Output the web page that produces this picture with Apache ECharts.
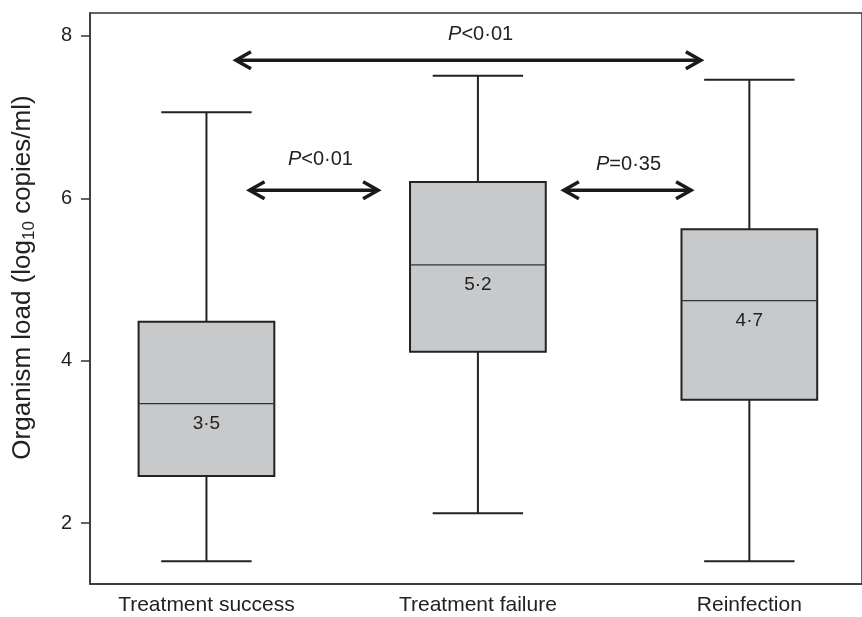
<!DOCTYPE html>
<html><head><meta charset="utf-8">
<script src="https://cdn.jsdelivr.net/npm/echarts@6/dist/echarts.min.js"></script>
<style>html,body{margin:0;padding:0;background:#fff}#c{width:862px;height:617px}</style>
</head><body><div id="c"></div>
<script>
// ---- data ----
const categories = ['Treatment success', 'Treatment failure', 'Reinfection'];
const groupPos = [1, 2, 3];
const whiskerLow = [1.53, 2.12, 1.53];
const q1 = [2.58, 4.11, 3.52];
const median = [3.47, 5.18, 4.74];
const q3 = [4.48, 6.20, 5.62];
const whiskerHigh = [7.06, 7.51, 7.46];
const medianLabels = ['3·5', '5·2', '4·7'];
const yTicks = [2, 4, 6, 8];
// pairwise comparisons (arrow spans in group units, arrow level, label)
const cmpFrom = [1.105, 1.155, 2.313];
const cmpTo = [2.825, 1.636, 2.789];
const cmpY = [7.70, 6.10, 6.10];
const cmpOp = ['<0·01', '<0·01', '=0·35'];
const cmpLabelX = [2.01, 1.42, 2.555];
const cmpLabelY = [8.02, 6.48, 6.42];

const FONT = '"Liberation Sans", Arial, Helvetica, sans-serif';
const INK = '#222';

const boxData = groupPos.map((x, i) => [x, whiskerLow[i], q1[i], median[i], q3[i], whiskerHigh[i], i]);
const cmpData = cmpFrom.map((f, i) => [f, cmpTo[i], cmpY[i], cmpLabelX[i], cmpLabelY[i], i]);

const chart = echarts.init(document.getElementById('c'), null, {renderer: 'canvas'});
chart.setOption({
  animation: false,
  backgroundColor: '#fff',
  grid: {left: 86, right: -6, top: 13, bottom: 33, show: true, borderColor: '#333', borderWidth: 1.5, backgroundColor: 'transparent'},
  xAxis: {
    type: 'value', min: 0.571, max: 3.415,
    axisLine: {show: true, lineStyle: {color: '#333', width: 1.5}},
    axisTick: {show: false},
    splitLine: {show: false},
    axisLabel: {
      customValues: groupPos,
      formatter: v => categories[Math.round(v) - 1] || '',
      margin: 11, fontSize: 21, color: '#222', fontFamily: FONT
    }
  },
  yAxis: {
    type: 'value', min: 1.249, max: 8.283,
    name: 'Organism load (log{sub|10} copies/ml)',
    nameLocation: 'middle', nameGap: 52, nameRotate: 90,
    nameTextStyle: {
      fontSize: 26, color: '#222', fontFamily: FONT, lineHeight: 30,
      padding: [0, 0, 0, 42],
      rich: {sub: {fontSize: 17, color: '#222', fontFamily: FONT, verticalAlign: 'bottom', lineHeight: 30, padding: [8, 0, 0, 0]}}
    },
    axisLine: {show: true, lineStyle: {color: '#333', width: 1.5}},
    axisTick: {show: true, customValues: yTicks, length: 9, lineStyle: {color: '#333', width: 1.5}},
    splitLine: {show: false},
    axisLabel: {customValues: yTicks, margin: 18, fontSize: 20, color: '#222', fontFamily: FONT}
  },
  series: [
    {
      type: 'custom',
      clip: false,
      data: boxData,
      encode: {x: 0, y: [1, 2, 3, 4, 5]},
      renderItem: function (params, api) {
        const x = api.value(0);
        const band = api.size([1, 0])[0];
        const boxW = band * 0.5;
        const capW = band * 0.333;
        const pMin = api.coord([x, api.value(1)]);
        const pQ1 = api.coord([x, api.value(2)]);
        const pMed = api.coord([x, api.value(3)]);
        const pQ3 = api.coord([x, api.value(4)]);
        const pMax = api.coord([x, api.value(5)]);
        const cx = pMed[0];
        const idx = api.value(6);
        const lineStyle = {stroke: INK, lineWidth: 2, fill: null};
        return {
          type: 'group',
          children: [
            {type: 'line', shape: {x1: cx, y1: pMax[1], x2: cx, y2: pQ3[1]}, style: lineStyle},
            {type: 'line', shape: {x1: cx, y1: pQ1[1], x2: cx, y2: pMin[1]}, style: lineStyle},
            {type: 'line', shape: {x1: cx - capW / 2, y1: pMax[1], x2: cx + capW / 2, y2: pMax[1]}, style: lineStyle},
            {type: 'line', shape: {x1: cx - capW / 2, y1: pMin[1], x2: cx + capW / 2, y2: pMin[1]}, style: lineStyle},
            {type: 'rect', shape: {x: cx - boxW / 2, y: pQ3[1], width: boxW, height: pQ1[1] - pQ3[1]},
              style: {fill: '#c8c9cb', stroke: INK, lineWidth: 2}},
            {type: 'line', shape: {x1: cx - boxW / 2, y1: pMed[1], x2: cx + boxW / 2, y2: pMed[1]},
              style: {stroke: '#333', lineWidth: 1.3}},
            {type: 'text', x: cx, y: pMed[1] + 20,
              style: {text: medianLabels[idx], fontSize: 19, fontFamily: FONT, fill: '#222', align: 'center', verticalAlign: 'middle'}}
          ]
        };
      }
    },
    {
      type: 'custom',
      clip: false,
      data: cmpData,
      encode: {x: [0, 1, 3], y: [2, 4]},
      renderItem: function (params, api) {
        const p1 = api.coord([api.value(0), api.value(2)]);
        const p2 = api.coord([api.value(1), api.value(2)]);
        const pl = api.coord([api.value(3), api.value(4)]);
        const idx = api.value(5);
        const hl = 16, hh = 8.5;
        const st = {stroke: '#1a1a1a', lineWidth: 3.5, fill: null, lineJoin: 'miter', lineCap: 'butt'};
        return {
          type: 'group',
          children: [
            {type: 'line', shape: {x1: p1[0] + 1, y1: p1[1], x2: p2[0] - 1, y2: p2[1]}, style: st},
            {type: 'polyline', shape: {points: [[p1[0] + hl, p1[1] - hh], [p1[0] + 1, p1[1]], [p1[0] + hl, p1[1] + hh]]}, style: st},
            {type: 'polyline', shape: {points: [[p2[0] - hl, p2[1] - hh], [p2[0] - 1, p2[1]], [p2[0] - hl, p2[1] + hh]]}, style: st},
            {type: 'text', x: pl[0], y: pl[1],
              style: {
                text: '{i|P}{n|' + cmpOp[idx] + '}',
                align: 'center', verticalAlign: 'middle',
                rich: {
                  i: {fontSize: 20, fontStyle: 'italic', fontFamily: FONT, fill: '#222'},
                  n: {fontSize: 20, fontFamily: FONT, fill: '#222'}
                }
              }}
          ]
        };
      }
    }
  ]
});
</script>
</body></html>
